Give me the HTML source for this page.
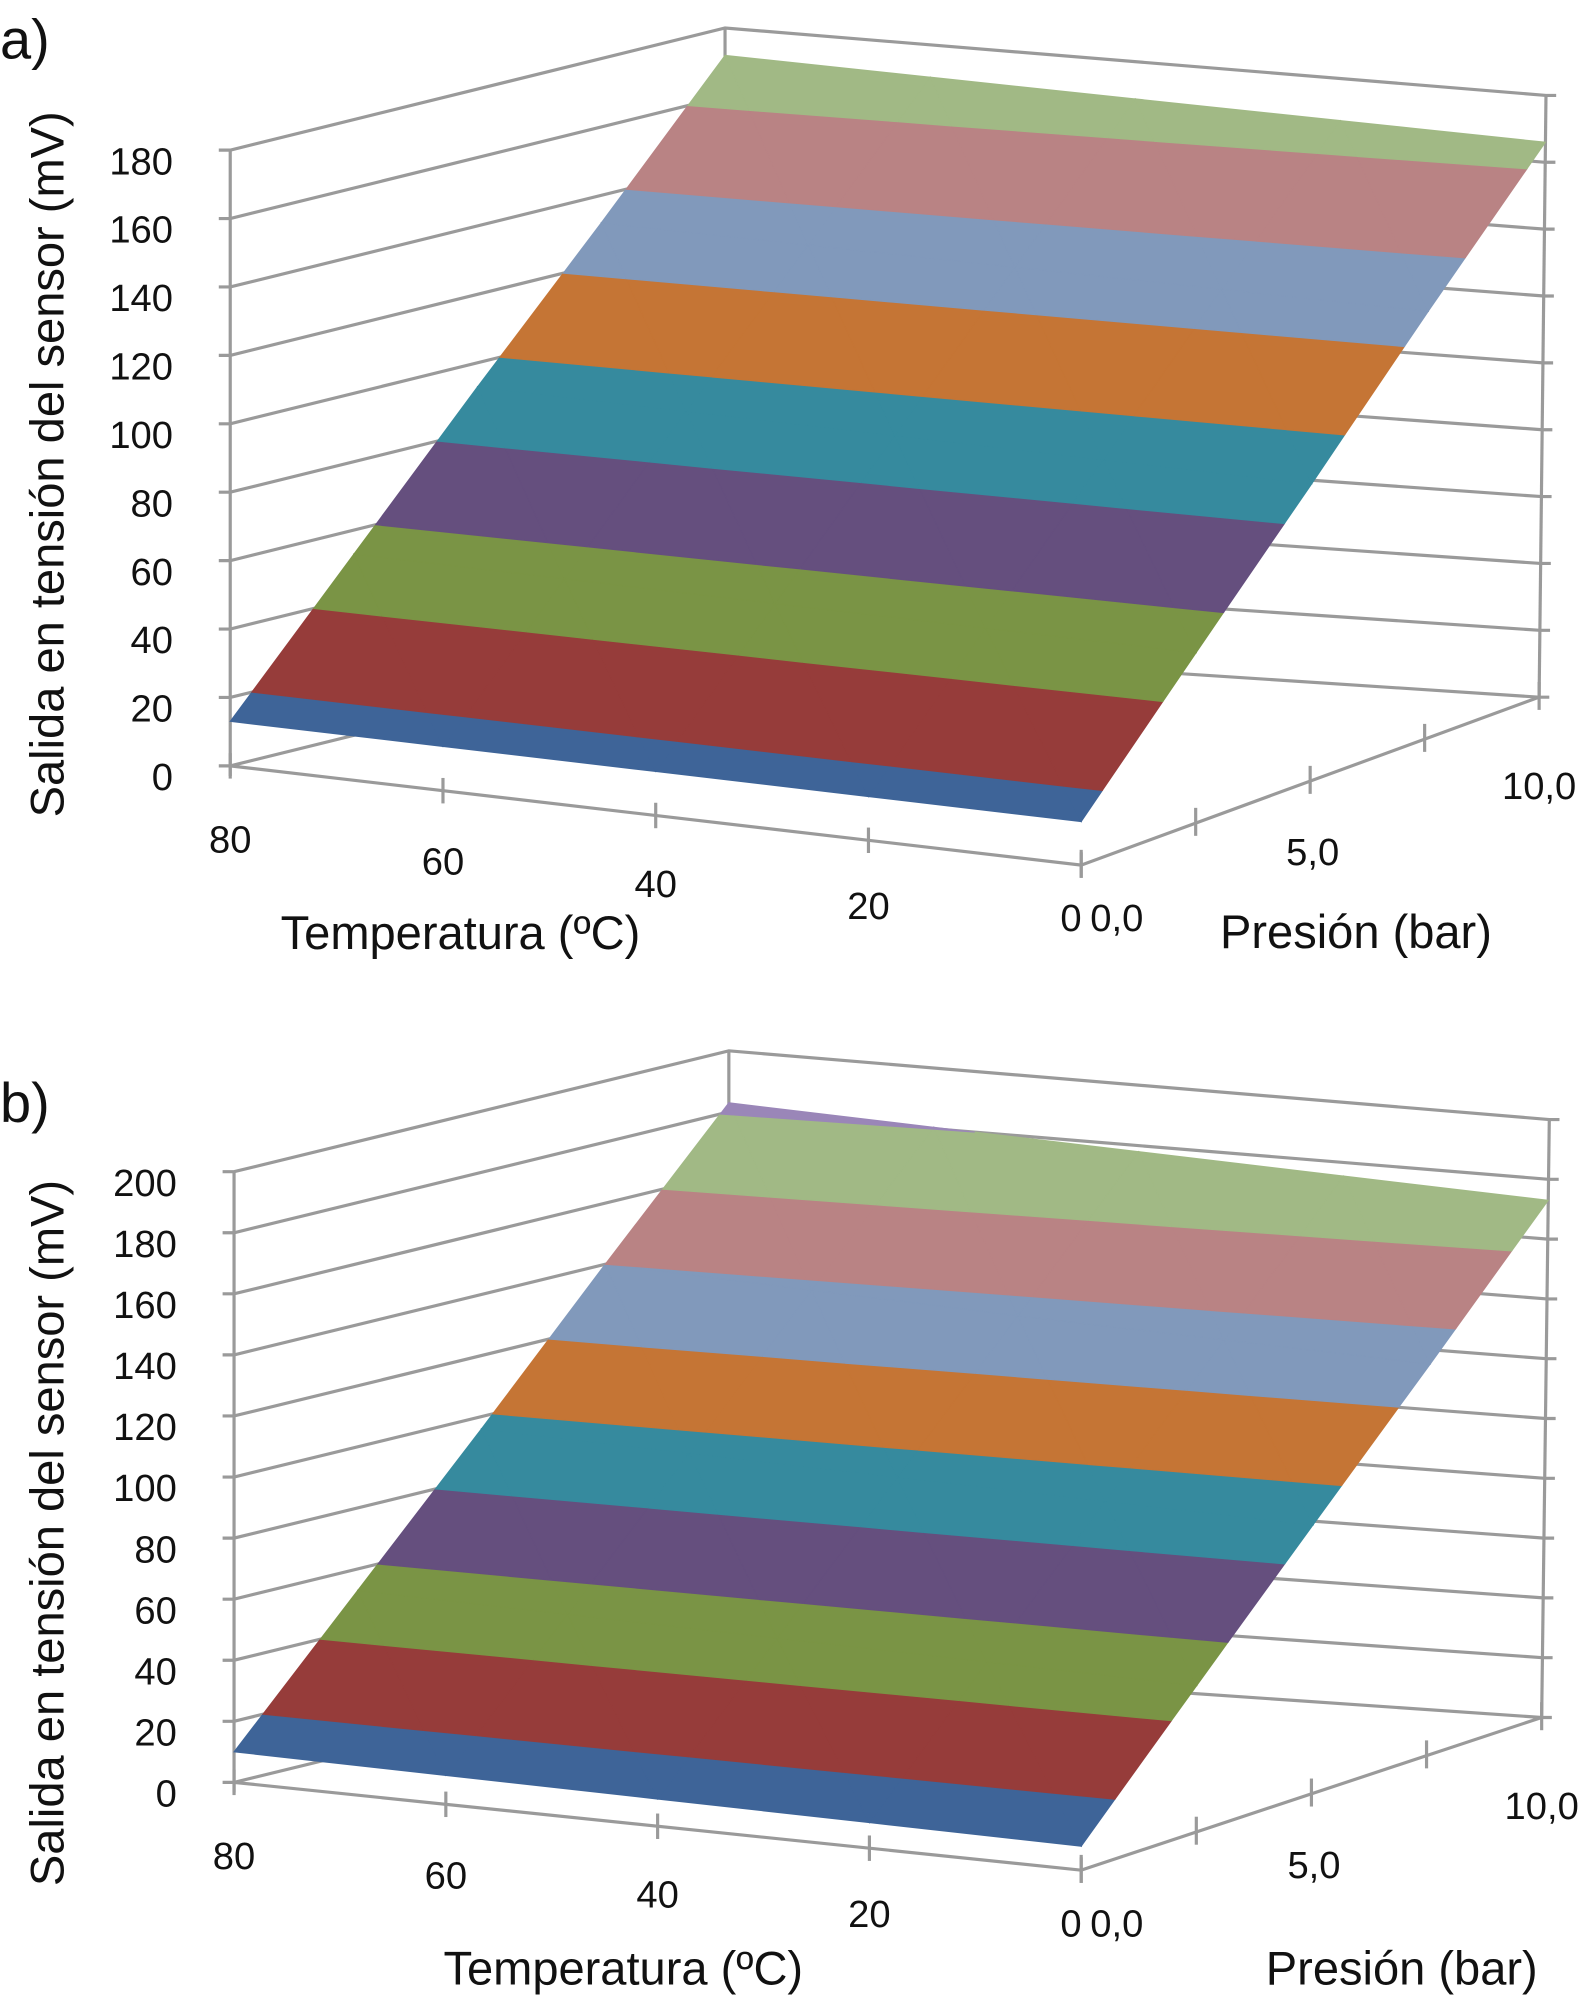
<!DOCTYPE html>
<html><head><meta charset="utf-8"><style>
html,body{margin:0;padding:0;background:#fff}
svg{display:block}
text{font-family:"Liberation Sans",Arial,sans-serif;fill:#111}
</style></head><body>
<svg id="s" width="1590" height="2005" viewBox="0 0 1250 1576" preserveAspectRatio="none" xmlns="http://www.w3.org/2000/svg"></svg>
<script>
// ---- data ----
const temps = [0, 20, 40, 60, 80];
const pressures = [0, 2.5, 5, 7.5, 10];
const valuesA = [
  [13, 51, 89, 128, 166],
  [13, 51.5, 90, 129, 167.5],
  [13, 52, 91, 130, 169],
  [13, 52.5, 92, 131, 170.5],
  [13, 53, 93, 132, 172]
];
const valuesB = [
  [8, 49, 90, 131, 173],
  [8.5, 50, 91.5, 133, 175.5],
  [9, 51, 93, 135, 178],
  [9.5, 52, 94.5, 137.5, 180.5],
  [10, 53, 96, 140, 183]
];
const yTicksA = [0, 20, 40, 60, 80, 100, 120, 140, 160, 180];
const yTicksB = [0, 20, 40, 60, 80, 100, 120, 140, 160, 180, 200];
const tempTickLabels = ["80", "60", "40", "20", "0"];
const tempTickValues = [80, 60, 40, 20, 0];
const presTickValues = [0, 2.5, 5, 7.5, 10];
const presLabelValues = [0, 5, 10];
const presLabels = ["0,0", "5,0", "10,0"];
const bandColors = ["#3e6498","#963c3a","#7a9445","#654f7e","#368a9e","#c57535","#8199bb","#b98384","#a1b985","#9a86b8"];

const NS = "http://www.w3.org/2000/svg";
const svg = document.getElementById('s');
function el(tag, attrs, parent) {
  const e = document.createElementNS(NS, tag);
  for (const k in attrs) e.setAttribute(k, attrs[k]);
  (parent || svg).appendChild(e);
  return e;
}

function drawChart(cfg) {
  const g = el('g', {});
  
  
  function proj(T, P, z) {
    const u = (80 - T) / 80, v = P / 10;
    const x = cfg.FL[0]*(1-u)*(1-v) + cfg.FR[0]*u*(1-v) + cfg.BR[0]*u*v + cfg.BL[0]*(1-u)*v;
    const y = cfg.FL[1]*(1-u)*(1-v) + cfg.FR[1]*u*(1-v) + cfg.BR[1]*u*v + cfg.BL[1]*(1-u)*v;
    const hs = cfg.hL*(1-u) + cfg.hR*u;
    return [x + z*cfg.lean*u*v, y - z*hs];
  }
  const grid = {stroke:'#9a9a9a','stroke-width':2.5,fill:'none'};
  const ymax = cfg.yTicks[cfg.yTicks.length-1];
  cfg.yTicks.forEach(z => {
    const a = proj(80,0,z), b = proj(80,10,z), c = proj(0,10,z);
    const l = el('polyline', Object.assign({points:`${a[0]-9},${a[1]} ${a.join(',')} ${b.join(',')} ${c.join(',')} ${c[0]+8},${c[1]}`}, grid), g);
    
    
    const t = el('text', {x:a[0]-45, y:a[1]+19, 'text-anchor':'end','font-size':30}, g);
    t.textContent = z;
    
    
  });
  [[80,0],[80,10],[0,10]].forEach(p => {
    const a = proj(p[0],p[1],0), b = proj(p[0],p[1],ymax);
    el('line', Object.assign({x1:a[0],y1:a[1]+(p[1]===0?8:0),x2:b[0],y2:b[1]}, grid), g);
  });
  const f1 = proj(80,0,0), f2 = proj(0,0,0), f3 = proj(0,10,0);
  const fl = el('polyline', Object.assign({points:`${f1.join(',')} ${f2.join(',')} ${f3.join(',')}`}, grid), g);
  
  
  const vals = cfg.values;
  function clip(poly, lvl, keepAbove) {
    const out = [];
    for (let i = 0; i < poly.length; i++) {
      const a = poly[i], b = poly[(i+1)%poly.length];
      const ina = keepAbove ? a[2] >= lvl : a[2] <= lvl;
      const inb = keepAbove ? b[2] >= lvl : b[2] <= lvl;
      if (ina) out.push(a);
      if (ina !== inb) {
        const t = (lvl - a[2]) / (b[2] - a[2]);
        out.push([a[0]+(b[0]-a[0])*t, a[1]+(b[1]-a[1])*t, lvl]);
      }
    }
    return out;
  }
  for (let i = 0; i < temps.length-1; i++) {
    for (let j = 0; j < pressures.length-1; j++) {
      const p00 = [temps[i], pressures[j], vals[i][j]];
      const p10 = [temps[i+1], pressures[j], vals[i+1][j]];
      const p01 = [temps[i], pressures[j+1], vals[i][j+1]];
      const p11 = [temps[i+1], pressures[j+1], vals[i+1][j+1]];
      [[p00,p10,p11],[p00,p11,p01]].forEach(tri => {
        bandColors.forEach((col, k) => {
          let poly = clip(tri, k*20, true);
          if (poly.length < 3) return;
          poly = clip(poly, (k+1)*20, false);
          if (poly.length < 3) return;
          const pts = poly.map(p => proj(p[0],p[1],p[2]).join(',')).join(' ');
          const pg = el('polygon', {points:pts, fill:col, stroke:col, 'stroke-width':0.8}, g);
          
          
        });
      });
    }
  }
  tempTickValues.forEach((T, i) => {
    const a = proj(T,0,0);
    el('line', Object.assign({x1:a[0],y1:a[1]-10,x2:a[0],y2:a[1]+10}, grid), g);
    const t = el('text', {x:a[0]+(T===0?-8:0), y:a[1]+(T===0?52:60+T*0.1), 'text-anchor':'middle','font-size':30}, g);
    t.textContent = tempTickLabels[i];
    
    
  });
  presTickValues.forEach(P => {
    const a = proj(0,P,0);
    el('line', Object.assign({x1:a[0],y1:a[1]-12,x2:a[0],y2:a[1]+10}, grid), g);
  });
  presLabelValues.forEach((P, i) => {
    const a = proj(0,P,0);
    const t = el('text', {x:a[0]+(P===0?28:P===5?2:0), y:a[1]+(P===0?52:P===5?66:80), 'text-anchor':'middle','font-size':30}, g);
    t.textContent = presLabels[i];
    
    
  });
  const tt = el('text', {x:cfg.tempTitle[0], y:cfg.tempTitle[1], 'text-anchor':'middle','font-size':37}, g);
  tt.textContent = 'Temperatura (ºC)';
  
  
  const pt = el('text', {x:cfg.presTitle[0], y:cfg.presTitle[1], 'text-anchor':'middle','font-size':37}, g);
  pt.textContent = 'Presión (bar)';
  
  
  const yt = el('text', {x:0, y:0, 'text-anchor':'middle','font-size':37, transform:`translate(${cfg.yTitle[0]},${cfg.yTitle[1]}) rotate(-90)`}, g);
  yt.textContent = 'Salida en tensión del sensor (mV)';
  
  
  const pl = el('text', {x:0, y:cfg.panelY, 'font-size':44}, g);
  pl.textContent = cfg.panel;
  
  
}

drawChart({name:'chart-a', panel:'a)', panelY:46, values:valuesA, yTicks:yTicksA,
  FL:[181,602], FR:[850,680], BR:[1210,548], BL:[570,506], hL:484/180, hR:473/180, lean:0.03,
  tempTitle:[362,746], presTitle:[1066,745], yTitle:[50,365]});
drawChart({name:'chart-b', panel:'b)', panelY:882, values:valuesB, yTicks:yTicksB,
  FL:[184,1401], FR:[850,1470], BR:[1212,1350], BL:[573,1306], hL:480/200, hR:470/200, lean:0.03,
  tempTitle:[490,1560], presTitle:[1102,1560], yTitle:[50,1205]});
</script>
</body></html>
